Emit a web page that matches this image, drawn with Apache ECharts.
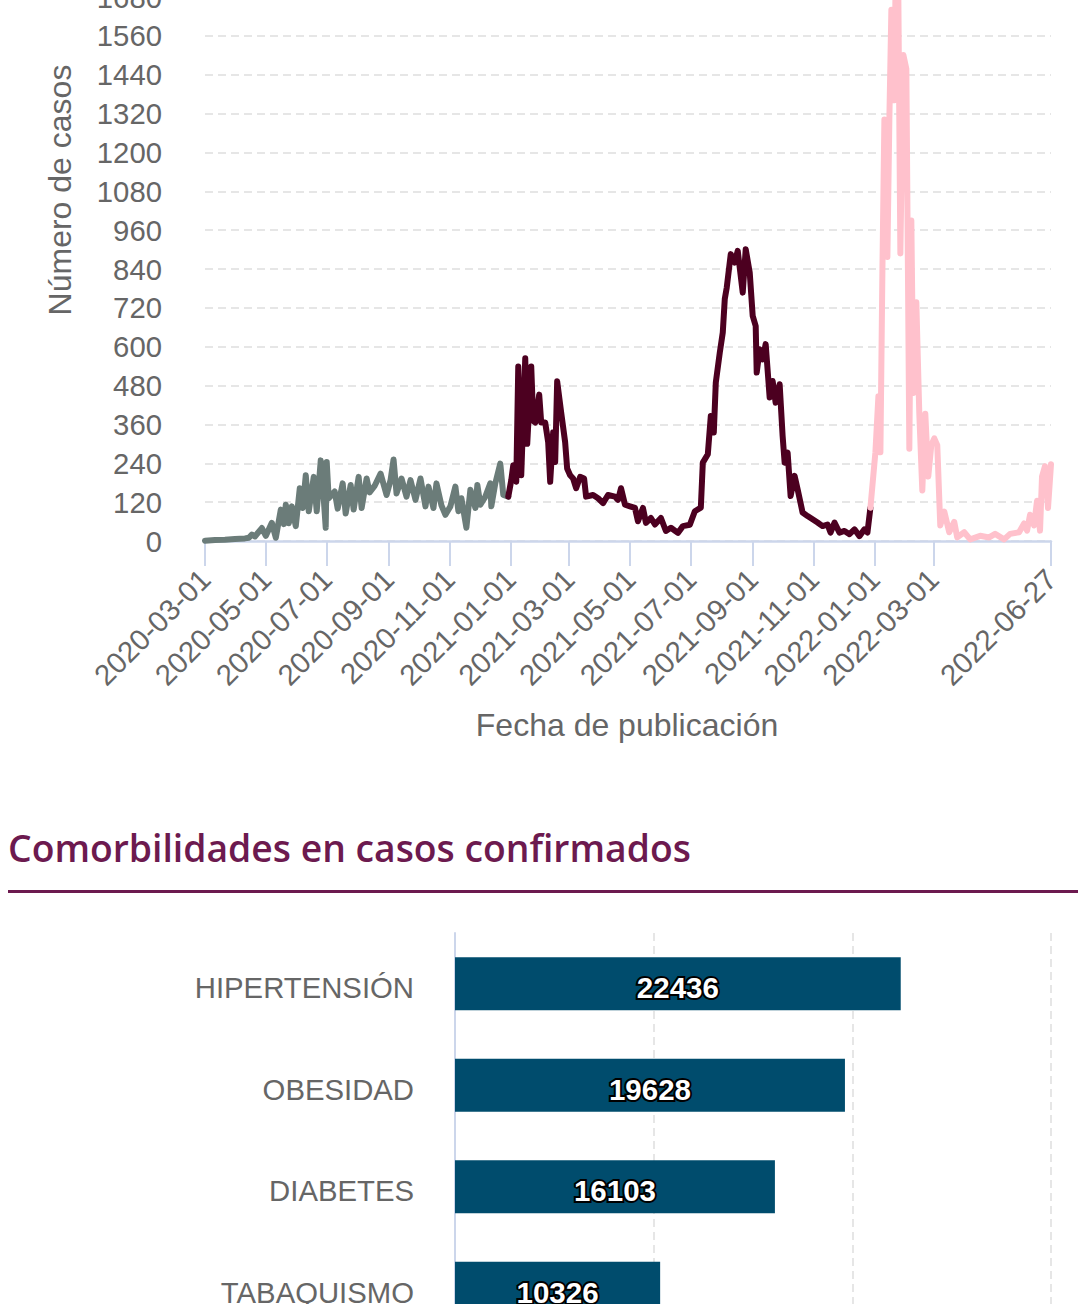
<!DOCTYPE html>
<html>
<head>
<meta charset="utf-8">
<script src="https://cdn.jsdelivr.net/npm/echarts@6/dist/echarts.min.js"></script>
<style>
html,body{margin:0;padding:0;background:#fff;overflow:hidden;}
#chart{width:1091px;height:1304px;}
</style>
</head>
<body>
<div id="chart"></div>
<script>
// ---------- data: daily cases (x = days counted from 2020-03-01) ----------
const startDate = '2020-03-01';
const endDate = '2022-06-27';
const tickLabels = ['2020-03-01','2020-05-01','2020-07-01','2020-09-01','2020-11-01',
  '2021-01-01','2021-03-01','2021-05-01','2021-07-01','2021-09-01','2021-11-01',
  '2022-01-01','2022-03-01','2022-06-27'];

const grayDays = [0,10,20,30,40,44,47,50,57,61,67,71,76,79,81,84,87,91,95,98,101,104,109,112,116,119,121,122,124,130,133,138,141,146,149,154,157,162,165,170,176,182,186,189,192,197,202,206,211,216,221,224,229,232,237,241,246,251,254,257,262,266,271,273,276,281,286,287,291,296,299,304];
const grayValues = [1,3,4,6,8,10,20,14,40,16,56,10,97,52,112,55,107,46,163,102,203,92,198,92,249,132,41,244,132,153,100,178,85,173,97,198,102,193,150,170,208,142,188,252,147,193,137,188,127,193,107,168,102,178,110,81,107,168,92,132,41,158,102,173,112,137,178,107,178,239,142,137];

const maroonDays = [304,307,309,312,314,317,321,323,327,329,331,335,337,341,344,346,349,351,353,357,361,363,366,369,372,376,380,382,389,394,399,404,411,414,417,421,426,431,434,439,442,447,451,457,462,467,474,479,486,491,497,499,504,507,510,512,516,519,521,523,527,531,534,539,542,546,549,552,553,556,559,562,566,569,572,576,579,581,584,587,591,594,599,604,609,614,619,624,627,631,636,641,646,651,656,661,664,667];
const maroonValues = [137,188,234,183,539,203,564,300,539,371,366,452,366,366,305,183,336,244,493,397,305,224,203,193,163,198,193,137,142,132,117,142,137,127,163,112,107,102,61,102,56,71,51,71,31,41,25,46,50,92,103,242,268,386,335,489,582,644,747,783,886,860,896,767,901,829,695,664,520,592,561,608,443,494,427,484,324,242,273,139,201,160,88,77,67,57,46,51,26,57,26,31,21,36,15,36,26,103];

const pinkDays = [667,672,675,677,679,681,684,686,688,691,692,695,697,700,703,706,708,710,713,716,719,722,725,728,731,734,737,741,746,751,754,761,767,777,786,792,801,807,816,821,824,827,831,834,837,839,842,845,848];
const pinkValues = [103,274,447,274,834,1302,877,1307,1641,1361,1670,1675,888,1501,1458,285,990,457,737,393,156,393,199,296,317,296,48,91,27,59,11,27,5,16,11,22,5,22,27,54,32,81,48,124,32,199,231,102,237];

// ---------- data: comorbidities ----------
const comorbidities = ['HIPERTENSIÓN','OBESIDAD','DIABETES','TABAQUISMO'];
const comorbidityCases = [22436,19628,16103,10326];

// ---------- helpers ----------
const DAY = 86400000;
function parseDay(s){ const p = s.split('-').map(Number); return Date.UTC(p[0], p[1]-1, p[2]); }
const t0 = parseDay(startDate);
function dayIndex(s){ return Math.round((parseDay(s) - t0) / DAY); }
function toPairs(days, vals){ return days.map((d,i)=>[d, vals[i]]); }
function fmtDay(v){
  const d = new Date(t0 + Math.round(v) * DAY);
  const m = String(d.getUTCMonth()+1).padStart(2,'0');
  const dd = String(d.getUTCDate()).padStart(2,'0');
  return d.getUTCFullYear() + '-' + m + '-' + dd;
}
const tickValues = tickLabels.map(dayIndex);

const FONT = '"Liberation Sans", Arial, Helvetica, sans-serif';
const LABEL = '#666666';
const AXIS = '#ccd6eb';
const GRID = '#e6e6e6';
const titleColor = '#6c1a4f';
const FS = 29.3;

const chart = echarts.init(document.getElementById('chart'), null, {renderer:'svg', width:1091, height:1304});

const lineStyleBase = {width:6, join:'round', cap:'round'};

chart.setOption({
  animation:false,
  backgroundColor:'#ffffff',
  textStyle:{fontFamily:FONT},
  title:{
    text:'Comorbilidades en casos confirmados',
    left:8, top:829, padding:0,
    textStyle:{fontFamily:'"Open Sans", "Noto Sans", sans-serif', fontSize:37.3, fontWeight:600, color:titleColor}
  },
  grid:[
    {left:205, right:40, top:-3, height:544, outerBoundsMode:'none', containLabel:false},
    {left:455, right:40, top:933, height:406, outerBoundsMode:'none', containLabel:false}
  ],
  xAxis:[
    {
      type:'value', gridIndex:0,
      min:0, max:dayIndex(endDate),
      axisLine:{show:true, lineStyle:{color:AXIS, width:2.5}},
      axisTick:{show:true, length:25, lineStyle:{color:AXIS, width:2}, customValues:tickValues},
      axisLabel:{show:true, rotate:45, color:LABEL, fontSize:FS, fontFamily:FONT, margin:33,
        customValues:tickValues, formatter:function(v){return fmtDay(v);}},
      splitLine:{show:false}
    },
    {
      type:'value', gridIndex:1, min:0, max:30000, interval:10000,
      axisLine:{show:false}, axisTick:{show:false},
      axisLabel:{show:false},
      splitLine:{show:true, lineStyle:{color:GRID, width:2, type:[8,5]}}
    }
  ],
  yAxis:[
    {
      type:'value', gridIndex:0, min:0, max:1680, interval:120,
      axisLine:{show:false}, axisTick:{show:false},
      axisLabel:{color:LABEL, fontSize:FS, fontFamily:FONT, margin:43, formatter:function(v){return String(v);}},
      splitLine:{show:true, lineStyle:{color:GRID, width:2, type:[8,5]}}
    },
    {
      type:'category', gridIndex:1, inverse:true, data:comorbidities,
      axisLine:{show:true, lineStyle:{color:AXIS, width:2}},
      axisTick:{show:false},
      axisLabel:{color:LABEL, fontSize:FS, fontFamily:FONT, margin:41, verticalAlign:'top', lineHeight:8},
      splitLine:{show:false}
    }
  ],
  graphic:[
    {type:'text', x:60, y:190, rotation:Math.PI/2,
      style:{text:'Número de casos', fontSize:32, fontFamily:FONT, fill:LABEL, textAlign:'center', textVerticalAlign:'middle'}},
    {type:'text', x:627, y:725,
      style:{text:'Fecha de publicación', fontSize:32, fontFamily:FONT, fill:LABEL, textAlign:'center', textVerticalAlign:'middle'}},
    {type:'rect', shape:{x:8, y:890, width:1070, height:3}, style:{fill:titleColor}}
  ],
  series:[
    {type:'line', xAxisIndex:0, yAxisIndex:0, data:toPairs(grayDays, grayValues), showSymbol:false, symbol:'none',
      lineStyle:Object.assign({color:'#6b7c79'}, lineStyleBase), z:3},
    {type:'line', xAxisIndex:0, yAxisIndex:0, data:toPairs(maroonDays, maroonValues), showSymbol:false, symbol:'none',
      lineStyle:Object.assign({color:'#4c0020'}, lineStyleBase), z:4},
    {type:'line', xAxisIndex:0, yAxisIndex:0, data:toPairs(pinkDays, pinkValues), showSymbol:false, symbol:'none',
      lineStyle:Object.assign({color:'#ffc1cc'}, lineStyleBase), z:5},
    {type:'bar', xAxisIndex:1, yAxisIndex:1, data:comorbidityCases, barWidth:53,
      itemStyle:{color:'#004c6d'},
      label:{show:true, position:'inside', offset:[0,4], color:'#ffffff', fontSize:29.5, fontWeight:'bold', fontFamily:FONT,
        textBorderColor:'#000000', textBorderWidth:4}}
  ]
});
</script>
</body>
</html>
